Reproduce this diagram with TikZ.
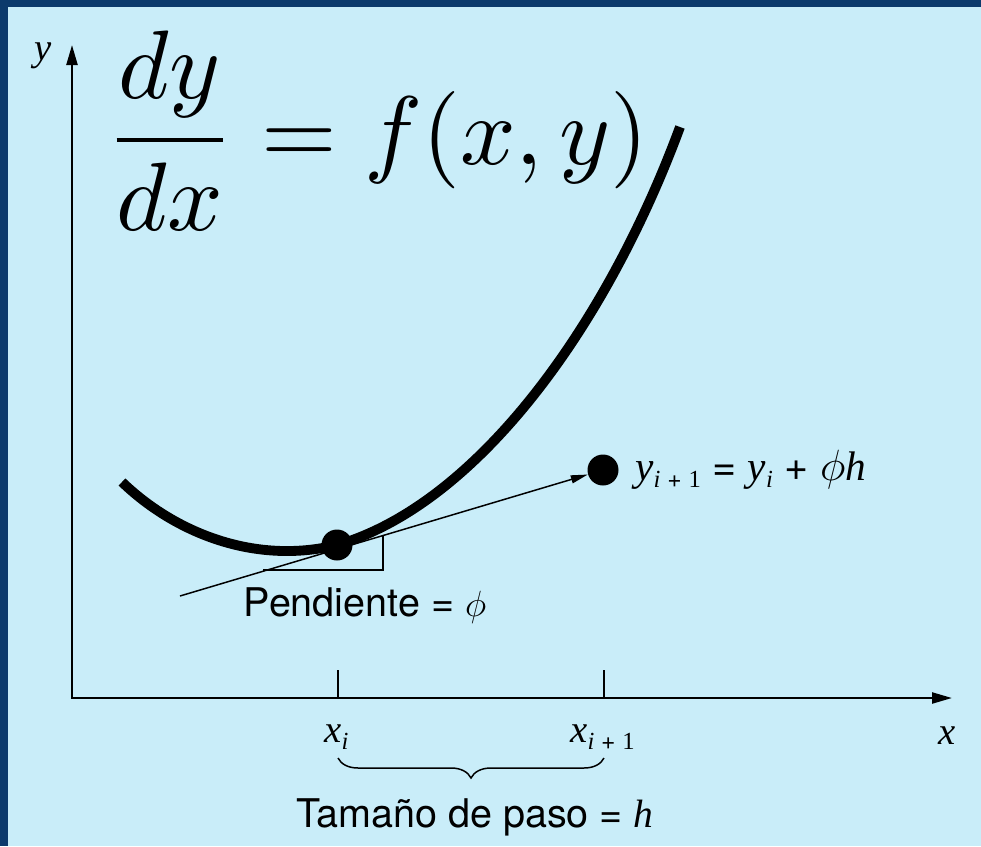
\documentclass[tikz,border=0pt]{standalone}
\usepackage{fontspec}
\setmainfont{TeX Gyre Heros}
\newfontfamily\tms{Liberation Serif}
\usetikzlibrary{arrows.meta,decorations.pathreplacing}
\definecolor{fondo}{RGB}{201,237,249}
\definecolor{marco}{RGB}{12,58,108}
\newcommand{\mi}[1]{{\tms\itshape #1}}
\newcommand{\sub}[1]{\raisebox{-4pt}{\fontsize{14}{16}\selectfont #1}}

\begin{document}
\begin{tikzpicture}[x=0.02cm, y=-0.02cm, >={Triangle[length=0.4cm,width=0.22cm]},
    eje/.style={line width=1.3pt},
    fino/.style={line width=0.85pt},
    curva/.style={line width=5.6pt},
    punto/.style={circle, fill, inner sep=0pt, minimum size=0.62cm},
    etiq/.style={inner sep=0pt, font=\fontsize{22}{26}\selectfont},
    texto/.style={inner sep=0pt, font=\fontsize{22.5}{27}\selectfont}]
  \fill[marco] (0,0) rectangle (981,846);
  \fill[fondo] (8,7) rectangle (981,846);

  \coordinate (O) at (72,698);
  \coordinate (ytip) at (72,45);
  \coordinate (xtip) at (952,698);
  \draw[eje,<->] (ytip) -- (O) -- (xtip);
  \node[etiq] (ylab) at (43,56) {\mi{y}};
  \node[etiq] (xlab) at (947,736) {\mi{x}};

  \node[anchor=base west, inner sep=0pt, scale=5.54] (ecuacion) at (103,164)
    {$\displaystyle\frac{dy}{dx}=f(x,y)$};

  \draw[curva] (122,482) .. controls (175,533) and (255,565) .. (337,545)
    .. controls (475,505) and (605,330) .. (680,127);

  \node[punto] (p1) at (337,545) {};
  \node[punto] (p2) at (603,470) {};
  \coordinate (t0) at (180,596);
  \draw[fino,-{Triangle[length=0.34cm,width=0.16cm]}] (t0) -- (p2);
  \draw[fino] (263,570) -- (383,570) -- (383,536);
  \node[texto, anchor=base] (pendiente) at (365,616) {Pendiente = $\phi$};
  \node[etiq, anchor=base west, font=\fontsize{23.5}{27}\selectfont] (ysig) at (635,480)
    {\mi{y}\sub{\mi{i} + {\tms 1}} = \mi{y}\sub{\mi{i}} + $\phi$\mi{h}};

  \coordinate (xi) at (338,698);
  \coordinate (xs) at (604,698);
  \draw[fino] (xi) -- ++(0,-28);
  \draw[fino] (xs) -- ++(0,-28);
  \node[etiq, anchor=base west] (lxi) at (324,742) {\mi{x}\sub{\mi{i}}};
  \node[etiq, anchor=base west] (lxs) at (570,742) {\mi{x}\sub{\mi{i} + {\tms 1}}};
  \draw[fino, decorate, decoration={brace, mirror, amplitude=0.4cm}] (338,758) -- (604,758);
  \node[texto, anchor=base] (paso) at (475,827) {Tamaño de paso = \mi{h}};
\end{tikzpicture}
\end{document}
